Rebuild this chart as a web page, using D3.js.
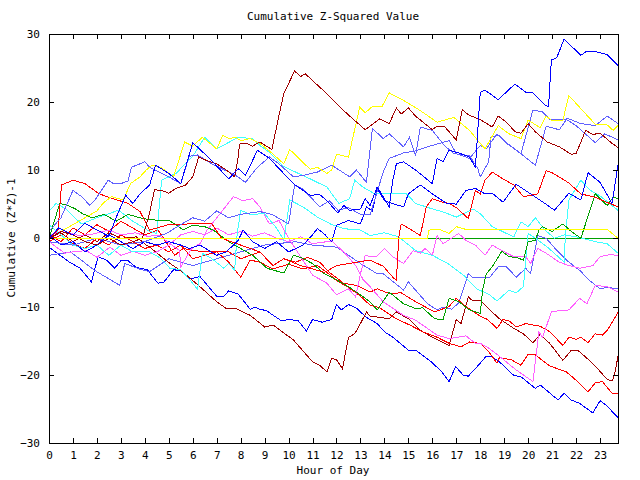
<!DOCTYPE html>
<html><head><meta charset="utf-8">
<script src="https://cdn.jsdelivr.net/npm/d3@7"></script>
<style>
body{margin:0;background:#fff;}
text{font-family:"DejaVu Sans Mono",monospace;font-size:11px;fill:#000;}
</style></head>
<body><svg id="c" width="640" height="480"></svg>
<script>
// ---------- data (hour of day, cumulative value) ----------
const hourTicks = d3.range(0, 24);
const valueTicks = [-30, -20, -10, 0, 10, 20, 30];

const sBlueTop = [[0,0],[0.4,1.5],[1,0.5],[1.5,2.2],[2,1.2],[2.5,0.3],[2.8,3],[3.2,6.3],[3.5,5.1],[3.8,6.5],[4.2,7.8],[4.45,10.7],[5,9.5],[5.5,8],[6,14],[6.7,11.7],[7.5,8.7],[7.9,10.2],[8.2,9.2],[8.7,12.9],[9.2,11.7],[10.2,8],[10.9,6.3],[11.3,6.4],[11.6,5.5],[12.06,3.7],[12.3,4.8],[12.55,4.1],[13,4.3],[13.2,5.8],[13.4,4.8],[13.7,7.5],[14,5.8],[14.2,4.6],[14.35,8.5],[14.5,10.9],[14.8,11.2],[15.3,10],[16,8],[16.2,11.7],[16.45,11.2],[16.7,12.9],[17.1,12.5],[17.55,11.9],[17.8,10.4],[18,21.4],[18.2,21.7],[18.75,20.3],[19.45,22.6],[19.9,21.4],[20.2,21.3],[20.7,19.5],[20.85,19.3],[20.97,26.1],[21.2,26.5],[21.5,29.2],[21.7,28.5],[22.2,26.8],[22.4,27.3],[22.85,27.3],[23.3,26.9],[23.75,25.3]];
const sBlueMid = [[0,0.5],[0.5,-1],[1,-0.5],[1.5,-2],[2,-1],[2.5,0.5],[3,-0.5],[3.5,-1.5],[4,-0.5],[4.5,-1],[5,-0.5],[5.5,-1],[5.87,-1.5],[6.3,-1],[7,-2.5],[7.4,-2],[7.9,-0.3],[8.1,1.2],[8.5,-0.5],[9,-1.5],[9.5,-0.5],[10,-2],[10.6,-1],[11,0.5],[11.2,1.4],[11.5,0.6],[11.8,-0.5],[12,1.9],[12.5,2.6],[13,2.1],[13.25,4.6],[13.5,4],[13.7,7.3],[14,5.5],[14.4,5],[14.8,4.6],[15,6.5],[15.5,7.8],[16,6.5],[16.6,5.1],[17,5],[17.4,7],[17.8,7.3],[18.2,6.5],[18.5,6.6],[18.95,5.3],[19.5,7.9],[20.1,6.5],[20.7,5.1],[21.1,4.1],[21.7,6.6],[22.2,5.6],[22.5,9.6],[23,8.2],[23.5,5.1],[23.75,10.7]];
const sBlueLow = [[0,-1.3],[0.85,-3.5],[1.3,-4.4],[1.77,-6.4],[2.05,-2.7],[2.4,-3.2],[2.74,-4.4],[3.0,-3.3],[3.3,-3.3],[3.65,-4.3],[4.1,-4.6],[4.55,-6.6],[4.8,-6.4],[5.2,-4.6],[5.5,-4.8],[5.87,-6],[6.3,-5.6],[7,-8.5],[7.3,-8.5],[7.5,-7.7],[7.9,-8.2],[8.4,-10.4],[8.6,-10.1],[8.8,-10.4],[9.07,-10.6],[9.7,-12.1],[10.05,-11.9],[10.4,-12.1],[10.75,-13.6],[11,-11.9],[11.4,-12.3],[11.8,-11.9],[12,-9.7],[12.2,-10.5],[12.5,-9.7],[12.85,-10.3],[13.25,-11.6],[13.7,-12.5],[14,-13.7],[14.35,-14.5],[15,-16.4],[15.3,-16.4],[15.96,-18.1],[16.4,-19.6],[16.7,-21],[16.97,-18.8],[17.3,-20.1],[17.5,-20.2],[17.8,-19.1],[18.25,-17.3],[18.5,-17.4],[18.8,-18.1],[19.4,-20.1],[19.7,-20.3],[20.3,-22],[20.5,-21.5],[21.25,-23.7],[21.5,-22.7],[21.8,-23.7],[22.15,-24.2],[22.7,-25.6],[23,-23.8],[23.3,-24.6],[23.75,-26.3]];
const sLightA = [[0,1],[0.5,3],[1,7],[1.4,6],[1.7,4.8],[1.9,5.5],[2.47,8.5],[2.7,8],[3,8],[3.3,8.4],[3.44,10.4],[4,11.2],[4.2,10.4],[5,9],[5.5,8],[5.85,12],[6.2,12.2],[6.8,10.9],[7.8,9.2],[8.2,8.2],[8.7,10.4],[9.2,11.9],[9.6,10.9],[10.2,9],[10.6,9.2],[11.2,9.7],[11.8,10.7],[12.2,9.8],[12.55,9],[12.83,10],[13.25,8.2],[13.5,16.1],[13.8,15.1],[13.95,14.6],[14.2,15.3],[14.8,13.4],[15.05,14.8],[15.3,12.1],[15.5,16.3],[16,15.8],[16.5,13.6],[16.9,12.4],[17.55,12.1],[17.9,10.2],[18,9],[18.35,11.2],[18.45,14.8],[18.75,15.1],[19.1,13.9],[19.7,12.4],[20.2,18.8],[20.6,18.5],[20.9,17.4],[21.3,17.4],[21.7,17.5],[22.2,16.8],[22.8,16.5],[23.3,17.9],[23.75,16.8]];
const sLightB = [[0,-0.5],[1,-1],[2,0],[3,-1],[4,-0.5],[4.9,0.7],[5.5,2],[6,3],[6.5,2.5],[7,4],[7.5,3],[8,3.5],[8.8,3.9],[9.3,3.5],[10,2.1],[10.25,7.8],[10.6,7.2],[10.9,6.1],[11.3,4.6],[11.7,5.5],[12.06,4.1],[12.5,4.5],[13,3.5],[13.4,3.4],[13.95,9.7],[14.2,11.7],[14.35,11.9],[14.8,12.5],[15.3,12.8],[15.8,13.4],[16.2,13.8],[16.7,14.3],[17,12.4],[17.55,11.7],[18,13.6],[18.25,13.1],[18.7,15.3],[19.1,14],[19.8,12.1],[20.3,10.7],[20.75,16.4],[21.3,15.9],[21.6,17.4],[22,16.5],[22.8,14],[23.2,15.3],[23.75,14.4]];
const sLightLow = [[0,-2.5],[0.9,-2],[1.9,-4.7],[2.95,-6.9],[3.16,-3.7],[3.85,-4.6],[4.2,-4.9],[5,-3],[6,-4],[7,-3],[8,-2],[9,-1],[10.3,-0.5],[11,-1],[12,-1.3],[12.5,-2.5],[13,-3.7],[13.7,-5.2],[13.95,-5.2],[14.8,-7.6],[15,-6.4],[15.8,-9.6],[16.2,-10.5],[16.45,-10.1],[16.8,-10.4],[17.1,-9.5],[17.5,-5.2],[17.7,-5.8],[18,-5.7],[18.4,-5.7],[18.75,-4.2],[19.1,-4.2],[19.5,-5.7],[19.9,-4.4],[20.1,-5.2],[20.4,0.4],[20.75,0],[21.2,-1.8],[21.7,-3.5],[22.15,-4.7],[22.6,-6.3],[23,-7.4],[23.3,-7.2],[23.75,-7.4]];
const sDarkRedHigh = [[0,0],[0.5,1],[1,0.5],[1.5,-0.5],[2,-1],[2.5,0],[3,-1],[3.5,-0.5],[3.9,0],[4.2,3.7],[4.4,7.1],[4.7,7],[5,6.6],[5.3,7.3],[5.7,7.8],[6,9],[6.25,11.9],[6.5,11.5],[7,10.9],[7.4,10],[7.75,9],[7.9,11.9],[7.95,13.8],[8.25,13.9],[8.5,13.5],[8.8,14.1],[9.3,13],[9.6,18],[9.8,21.2],[10.25,24.5],[10.5,23.7],[10.7,24.1],[11,23.1],[11.5,21.5],[12,19.7],[12.55,17.9],[13.2,15.9],[13.8,17.5],[14.2,16.8],[14.5,19.1],[14.7,18.2],[15,19.1],[15.3,17.9],[16,15.9],[16.15,16.3],[16.5,16.4],[17,14.4],[17.25,18.8],[17.55,18],[18,17.4],[18.5,16.3],[18.75,17.9],[19.1,17],[19.45,15.6],[19.7,15.4],[20,16.8],[20.3,15.6],[20.8,14.1],[21.3,13.4],[21.8,12.3],[22,12.4],[22.4,15.8],[22.7,15.2],[23,15.4],[23.5,13.9],[23.75,13.3]];
const sDarkRedLow = [[0,0],[0.5,0.8],[1,-0.5],[1.5,0.5],[2,-0.5],[2.5,0.8],[3,0],[3.65,0.2],[4.06,-1],[4.2,-1.3],[5.05,-3.7],[5.6,-5],[6.3,-7.1],[7,-9.3],[7.4,-10.3],[7.8,-10.3],[8.4,-11.3],[9,-13],[9.35,-12.7],[10.2,-14.9],[11,-18.1],[11.3,-18.6],[11.6,-19.6],[11.8,-17.6],[12,-17.8],[12.25,-19.1],[12.5,-14.5],[12.76,-14],[13,-12.5],[13.25,-10.8],[13.4,-11.4],[14.2,-11.8],[14.5,-10.8],[15.05,-11.9],[15.5,-13.5],[16,-14.5],[16.7,-15.7],[17,-11.9],[17.2,-12.5],[17.5,-8.6],[17.7,-9.2],[18,-9.1],[18.4,-10.5],[18.8,-11.8],[19.4,-13.2],[19.8,-14],[20.2,-15.3],[20.5,-14.1],[20.9,-15.4],[21.45,-17.9],[21.8,-16.4],[22.1,-16.5],[22.4,-17.4],[22.9,-19.1],[23.3,-20.7],[23.5,-20.9],[23.6,-20.1],[23.75,-17.3]];
const sRedHigh = [[0,0],[0.38,1.2],[0.52,7.8],[1.0,8.5],[1.5,8],[2.1,6.5],[2.5,6],[3.3,5.1],[3.8,3.9],[4.2,1.2],[5,2],[5.87,2.1],[6.8,2.1],[7.2,0],[8,-1],[8.8,-2],[9.35,-4],[9.8,-3],[10.5,-4],[11.5,-5],[12,-4],[13.4,-3.2],[13.95,-4.1],[14.4,-5.9],[14.5,-6.1],[14.6,0.2],[14.7,2.1],[15,1.5],[15.5,0.4],[15.75,4.6],[16,5.8],[16.4,5.3],[16.7,5.1],[17,4.5],[17.5,2.9],[17.8,7],[18,6.5],[18.2,8.5],[18.5,9.7],[18.95,8.7],[19.4,7.8],[19.8,6.1],[20.4,6.5],[20.75,9.9],[21,9.6],[21.7,8.1],[22.2,6.5],[22.8,6],[23.4,5.1],[23.75,4.6]];
const sRedMid = [[0,0.5],[0.5,-0.5],[1,1.5],[1.5,0.5],[2,2],[2.5,1],[3,2.5],[3.5,1.5],[4,0.5],[4.55,1.2],[5.25,-2.5],[5.6,-1.5],[6,-1.8],[6.6,-2],[7.5,-2],[8,-3],[8.8,-2],[9.35,-4],[9.8,-3],[10.3,-3.5],[10.8,-2.8],[11.3,-3.5],[11.7,-5],[12.3,-6.6],[12.83,-6.9],[13.4,-7.9],[13.7,-7.4],[14.2,-8.1],[14.7,-8],[15.3,-9.3],[16.1,-10.8],[16.7,-10],[17,-8.8],[17.4,-10],[18,-11.4],[18.3,-11.9],[18.7,-13.2],[18.95,-11.9],[19.2,-12.1],[19.5,-13],[19.9,-12.5],[20.5,-12.9],[20.9,-13.7],[21.45,-15.7],[21.7,-14.5],[22,-14.8],[22.2,-14.5],[22.5,-15.3],[22.8,-14],[23.1,-14.2],[23.3,-13.5],[23.75,-10.9]];
const sRedLow = [[0,-0.5],[0.5,0.5],[1,-0.8],[1.5,-1.5],[2,0],[2.5,-1],[3,0.5],[3.5,-0.5],[4,-1.5],[4.5,-1],[5,-2],[5.5,-1],[6,-3],[6.5,-2.5],[7,-2],[7.5,-3.5],[8,-5.7],[8.4,-3.2],[8.8,-3.5],[9.35,-4.5],[10,-3.8],[10.6,-4.5],[11.2,-4],[11.6,-5],[12,-6.2],[12.5,-7.2],[13,-8.5],[13.4,-9.8],[13.8,-10.2],[14.5,-11.8],[15.05,-12.7],[15.6,-13.7],[16.2,-14.5],[16.7,-15.4],[17.2,-15.9],[17.55,-15.2],[18,-15.4],[18.35,-16.6],[18.7,-18.3],[18.8,-17.5],[19.3,-17.8],[19.7,-18.6],[20,-17],[20.3,-17.1],[20.9,-18.7],[21.6,-19.6],[22,-20.8],[22.5,-22.5],[22.8,-21.2],[23.1,-21],[23.5,-22.7],[23.75,-22.8]];
const sYellowHigh = [[0,0],[0.5,1],[1,2],[1.5,3],[2,4],[2.25,5.1],[2.6,6.1],[3.1,5.6],[3.4,8],[3.8,9],[4.06,10],[4.3,10.7],[4.7,10.3],[5.2,9],[5.66,14.1],[6,13.5],[6.4,14.8],[7,13.1],[7.26,15.1],[7.5,14.6],[7.8,14.8],[8,14.3],[8.4,14.6],[8.8,13.9],[9.3,12.5],[9.8,10.9],[10.05,13],[10.9,10.1],[11.2,10.4],[11.6,9.5],[11.8,10],[12,12.3],[12.5,11.9],[12.97,19.2],[13.2,18.4],[13.5,19.3],[13.9,19.3],[14.2,21.3],[14.8,20.2],[15.5,18.7],[16.2,17],[16.9,17.7],[17.55,15.8],[18,13.9],[18.2,13.1],[18.75,16.5],[19.2,15.3],[19.7,14.6],[20,17.3],[20.5,16.2],[20.75,17.9],[21,17.2],[21.45,17.3],[21.7,20.9],[22.8,16.7],[23.3,16.6],[23.55,15.8],[23.75,16.5]];
const sYellowZero = [[0,0],[15.8,0],[15.85,1.2],[16.3,1.3],[16.7,0.7],[17,1.7],[17.4,1.3],[18.1,1.3],[20,1.3],[23.3,1.3],[23.75,0]];
const sCyanA = [[0,4],[0.3,5.1],[0.7,4.3],[1.35,2.1],[2,3],[2.9,4.1],[3.5,2.5],[4.2,1],[4.5,0.7],[4.7,8.5],[5.3,9.5],[6,12],[6.5,14.8],[7,13.1],[7.9,14.8],[8.5,14.6],[8.8,13.6],[9.2,12.6],[9.8,10.5],[10.9,8.7],[11.6,7.5],[12.1,5.1],[12.55,5.8],[12.76,8.5],[13.1,7.5],[13.6,6.5],[14.4,6.6],[14.9,6.6],[15.3,5.1],[16,4.3],[16.5,3.8],[17,3.1],[17.7,4.3],[18,3.6],[18.5,1.7],[19.4,0.2],[19.7,2.4],[20,1.7],[20.3,3],[20.7,1.2],[21.1,0],[21.5,0.5],[22,0.2],[22.8,-0.5],[23.3,-0.8],[23.75,-2.2]];
const sCyanB = [[0,2],[0.5,0.5],[1,-1],[1.5,-1.5],[2,-1],[2.5,-2.5],[3,-1],[3.5,-2],[4.2,-2],[4.6,-2.8],[5.05,-4.4],[5.5,-4.6],[5.95,-6.4],[6.2,-7.5],[6.4,-2.2],[6.8,-3],[7.3,-4.4],[7.5,-3.7],[7.75,-4.7],[7.85,0.5],[8.0,4.1],[8.4,3.5],[9,3.6],[9.5,1.5],[9.8,-0.3],[10.05,5.6],[10.6,4.6],[11.2,3.1],[11.8,2],[12.3,1.4],[13,1.2],[13.4,0.4],[14,0.8],[14.6,0.2],[15.3,-1.8],[16,-2.5],[16.65,-3.7],[17.3,-5.4],[17.85,-7.4],[18.4,-8.3],[18.7,-9.2],[19.2,-7.6],[19.5,-8],[19.8,-7.1],[20,0.7],[20.3,0],[20.8,-1.3],[21.25,-2.7],[21.5,-3.5],[21.55,0.2],[21.7,5.6],[22.2,8.5],[22.6,7],[23,6.2],[23.5,4.8],[23.75,4.1]];
const sMagentaMid = [[0,0.4],[0.5,1],[1.28,0.4],[1.8,0.6],[2.5,1.2],[3,0.5],[3.6,0.8],[4.1,0.3],[4.6,0.4],[5.05,-0.8],[5.45,-1.8],[5.5,-4.2],[5.95,-1.5],[6.3,-0.8],[6.6,1.2],[7.7,6.1],[8.1,5.5],[8.5,5.8],[8.8,4.6],[9.2,2.1],[9.6,2.6],[10,0],[10.5,-2.7],[11,-5.4],[11.6,-6.6],[12,-8.3],[12.5,-7.4],[12.8,-8.6],[13,-5.2],[13.2,-2.5],[13.4,-2.7],[13.7,-2.6],[14,-1.5],[14.35,-2.7],[14.8,-3.7],[15.2,-1.8],[15.5,-2.2],[15.7,-1.5],[16,-2.5],[16.2,0.4],[16.45,-0.8],[16.8,0],[17.1,0.7],[17.4,-0.3],[17.8,-1],[18.2,-2.5],[18.5,-1],[18.9,-1.8],[19.4,-2.7],[19.9,-2.7],[20.1,-3.7],[20.4,-1.5],[20.75,-2.2],[21.3,-3.5],[21.7,-4],[22.15,-4.4],[22.7,-4],[23,-2.7],[23.4,-2.4],[23.75,-2.5]];
const sMagentaLow = [[0,-0.5],[0.66,-2.2],[1.0,-2],[1.56,-1.8],[2,-2.8],[2.54,-1.3],[3,-2.5],[3.5,-1.9],[4,-2.5],[4.5,-2],[5,-1],[5.5,0.5],[6,1],[6.5,0.5],[7,1.5],[7.5,0.5],[8,1],[8.5,0.3],[9,0.8],[9.5,0],[10,-0.5],[10.5,0.2],[11,-0.8],[11.8,-0.4],[12.3,-2],[12.8,-4],[13.1,-6],[13.4,-7.1],[13.95,-9.3],[14.8,-11.3],[15.3,-12],[16.2,-14.2],[16.7,-14.7],[17.4,-14.3],[17.8,-15.4],[18,-15.4],[18.4,-16.2],[18.8,-17.3],[19.5,-19.3],[20.2,-21],[20.45,-13.7],[20.6,-14.5],[20.97,-10.8],[21.3,-10.6],[21.7,-10.5],[22.15,-8.8],[22.45,-9.6],[22.8,-6.9],[23.3,-7.1],[23.75,-7.9]];
const sGreenWalk = [[0,0],[0.45,5.1],[0.8,4.8],[1.1,4.3],[1.4,3.6],[1.8,3],[2.3,3.5],[2.8,2.5],[3.3,3.5],[3.8,3],[4.2,2.7],[5,2.6],[5.3,2],[5.6,1.2],[6,1.9],[6.5,1.7],[6.85,1.2],[7.5,-0.5],[8,-1.5],[8.5,-2.5],[9.1,-4.4],[9.3,-4.6],[9.8,-5.1],[10.2,-2.5],[10.5,-2.8],[11,-3.7],[11.5,-5.2],[12,-6.1],[12.5,-7.1],[13,-8.3],[13.4,-9.3],[13.7,-10.5],[14.2,-7.9],[14.8,-9.6],[15.3,-10.3],[15.6,-10.2],[16.1,-11.8],[16.45,-11.9],[16.7,-8.8],[17.1,-9.3],[17.55,-10.5],[18,-11],[18.1,-7.6],[18.25,-5.2],[18.5,-4.2],[18.9,-1.9],[19.2,-2.7],[19.5,-2.8],[19.8,-3.2],[20,-0.5],[20.3,-0.3],[20.45,1.2],[20.6,1.7],[21,1],[21.45,2.1],[21.8,1],[22.2,0],[22.8,6.5],[23.3,4.8],[23.55,6],[23.75,5.8]];
const sGreenZero = [[0,0],[23.75,0]];

// ---------- drawing ----------
const series = [
  {d: sGreenZero, c: "#00a000"},
  {d: sBlueLow, c: "#0000ff"},
  {d: sLightLow, c: "#6060ff"},
  {d: sDarkRedLow, c: "#a00000"},
  {d: sRedLow, c: "#ff0000"},
  {d: sRedMid, c: "#ff0000"},
  {d: sMagentaLow, c: "#ff60ff"},
  {d: sMagentaMid, c: "#ff60ff"},
  {d: sCyanB, c: "#40ffff"},
  {d: sCyanA, c: "#40ffff"},
  {d: sGreenWalk, c: "#00a000"},
  {d: sRedHigh, c: "#ff0000"},
  {d: sBlueMid, c: "#0000ff"},
  {d: sLightB, c: "#6060ff"},
  {d: sLightA, c: "#6060ff"},
  {d: sYellowHigh, c: "#ffff00"},
  {d: sDarkRedHigh, c: "#a00000"},
  {d: sBlueTop, c: "#0000ff"},
  {d: sYellowZero, c: "#ffff00"}
];

const L = 49, R = 618, T = 33.5, B = 443;
const x = d3.scaleLinear().domain([0, 23.75]).range([L, R]);
const y = d3.scaleLinear().domain([-30, 30]).range([B, T]);
const svg = d3.select("#c");

const line = d3.line().x(d => x(d[0])).y(d => y(d[1]));
svg.append("g").selectAll("path").data(series).join("path")
  .attr("d", s => line(s.d)).attr("fill", "none")
  .attr("stroke", s => s.c).attr("stroke-width", 1)
  .attr("shape-rendering", "crispEdges");

function styleAxis(g){
  g.selectAll("path,line").attr("stroke", "#000").attr("shape-rendering", "crispEdges");
  g.selectAll("text").attr("font-family", "DejaVu Sans Mono, monospace").attr("font-size", 11).attr("fill", "#000");
}
svg.append("g").attr("transform", `translate(0,${B})`)
  .call(d3.axisBottom(x).tickValues(hourTicks).tickFormat(d3.format("d")).tickSize(-5).tickSizeOuter(0).tickPadding(8))
  .call(styleAxis);
svg.append("g").attr("transform", `translate(0,${T})`)
  .call(d3.axisTop(x).tickValues(hourTicks).tickFormat("").tickSize(-5).tickSizeOuter(0))
  .call(styleAxis);
svg.append("g").attr("transform", `translate(${L},0)`)
  .call(d3.axisLeft(y).tickValues(valueTicks).tickFormat(d3.format("d")).tickSize(-5).tickSizeOuter(0).tickPadding(9))
  .call(styleAxis);
svg.append("g").attr("transform", `translate(${R},0)`)
  .call(d3.axisRight(y).tickValues(valueTicks).tickFormat("").tickSize(-5).tickSizeOuter(0))
  .call(styleAxis);

svg.append("text").attr("x", 333).attr("y", 20).attr("text-anchor", "middle").text("Cumulative Z-Squared Value");
svg.append("text").attr("x", 333).attr("y", 474).attr("text-anchor", "middle").text("Hour of Day");
svg.append("text").attr("transform", "translate(15,238) rotate(-90)").attr("text-anchor", "middle").text("Cumulative (Z*Z)-1");
</script></body></html>
